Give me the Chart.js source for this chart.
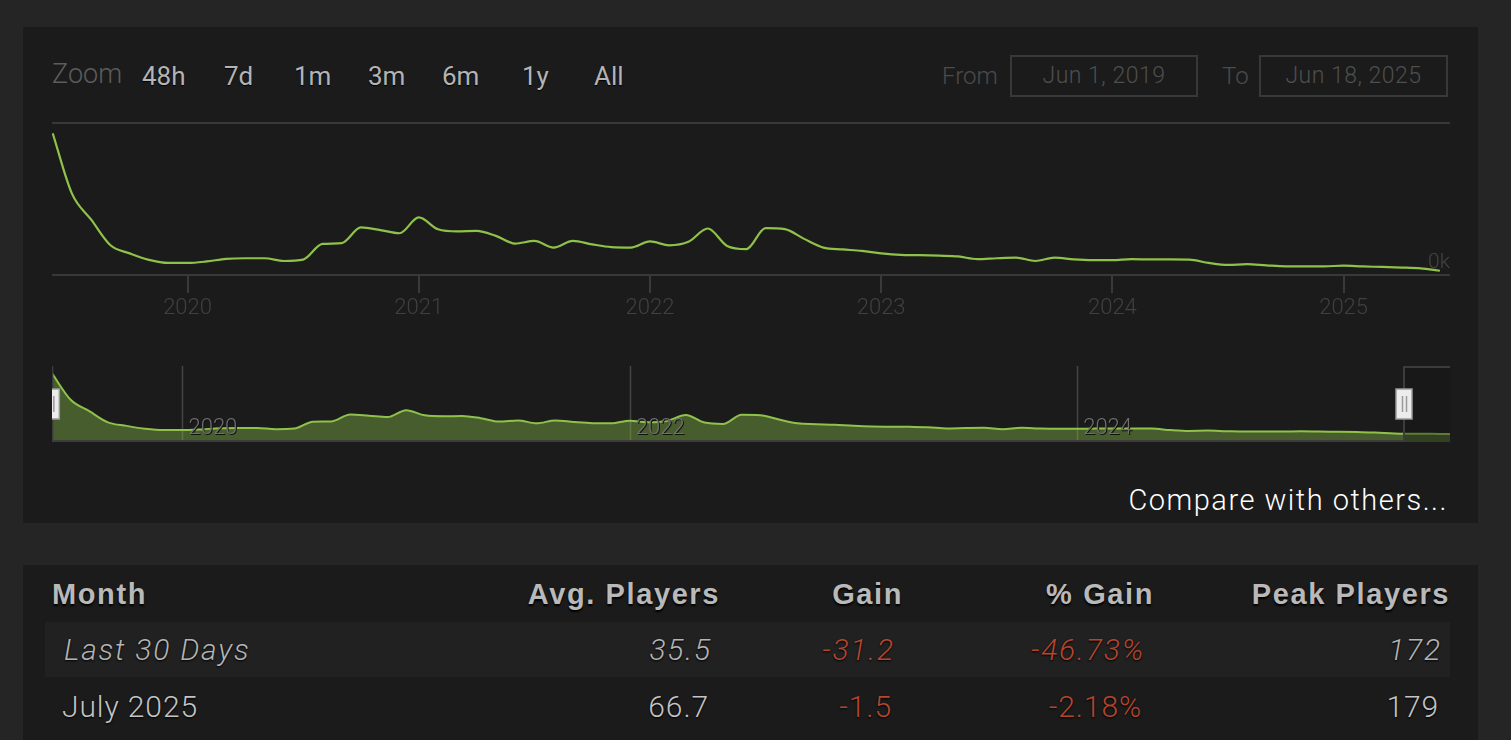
<!DOCTYPE html>
<html>
<head>
<meta charset="utf-8">
<script src="https://cdn.jsdelivr.net/npm/chart.js@4.4.1/dist/chart.umd.min.js"></script>
<style>
  body { margin: 0; width: 1511px; height: 740px; overflow: hidden; background: #252525; font-family: Roboto, 'Liberation Sans', sans-serif; }
  .panel { position: absolute; left: 23px; width: 1455px; background: #1b1b1b; }
  .t { position: absolute; white-space: nowrap; height: 40px; line-height: 40px; }
  .r { text-align: right; }
  .btn { color: #b4b4b4; font-size: 26px; text-shadow: 0 1px 1px #000; }
  .lbl { color: #4c4c4c; font-size: 24px; font-weight: 300; }
  .box { position: absolute; top: 55px; height: 38px; border: 2px solid #383838; color: #4e4e4e; font-size: 23px; font-weight: 300; line-height: 38px; text-align: center; letter-spacing: 0.5px; }
  .th { font-family: 'Liberation Sans', sans-serif; font-weight: bold; font-size: 29px; letter-spacing: 1.6px; color: #b9b9b9; text-shadow: 0 2px 2px #000; }
  .td { font-size: 30px; font-weight: 300; color: #c4c4c4; letter-spacing: 0.9px; text-shadow: 0 1px 2px #000; }
  .it { font-style: italic; color: #b4b4b4; letter-spacing: 1.8px; }
  .neg { color: #b4462e; }
  canvas { position: absolute; }
</style>
</head>
<body>
<div class="panel" style="top:27px;height:496px;"></div>
<div class="panel" style="top:565px;height:175px;"></div>
<div style="position:absolute;left:45px;top:622px;width:1405px;height:55px;background:#212121;"></div>

<!-- zoom bar -->
<div class="t" style="left:52px;top:54px;color:#5c5c5c;font-size:27px;font-weight:300;">Zoom</div>
<div class="t btn" style="left:142px;top:56px;">48h</div>
<div class="t btn" style="left:224px;top:56px;">7d</div>
<div class="t btn" style="left:294px;top:56px;">1m</div>
<div class="t btn" style="left:368px;top:56px;">3m</div>
<div class="t btn" style="left:442px;top:56px;">6m</div>
<div class="t btn" style="left:522px;top:56px;">1y</div>
<div class="t btn" style="left:594px;top:56px;">All</div>
<div class="t lbl" style="left:942px;top:56px;">From</div>
<div class="box" style="left:1010px;width:184px;">Jun 1, 2019</div>
<div class="t lbl" style="left:1222px;top:56px;">To</div>
<div class="box" style="left:1259px;width:185px;">Jun 18, 2025</div>

<canvas id="mainChart" style="left:52px;top:110px;width:1398px;height:215px;"></canvas>
<canvas id="navChart" style="left:52px;top:366px;width:1398px;height:76px;"></canvas>

<div class="t r" style="right:63px;top:480px;color:#fff;font-size:29px;font-weight:300;letter-spacing:1.5px;">Compare with others...</div>

<!-- table -->
<div class="t th" style="left:52px;top:574px;">Month</div>
<div class="t th r" style="right:791px;top:574px;">Avg. Players</div>
<div class="t th r" style="right:608px;top:574px;">Gain</div>
<div class="t th r" style="right:357px;top:574px;">% Gain</div>
<div class="t th r" style="right:61px;top:574px;">Peak Players</div>

<div class="t td it" style="left:64px;top:630px;">Last 30 Days</div>
<div class="t td it r" style="right:799px;top:630px;">35.5</div>
<div class="t td it neg r" style="right:616px;top:630px;">-31.2</div>
<div class="t td it neg r" style="right:366px;top:630px;">-46.73%</div>
<div class="t td it r" style="right:69px;top:630px;">172</div>

<div class="t td" style="left:62px;top:687px;">July 2025</div>
<div class="t td r" style="right:802px;top:687px;">66.7</div>
<div class="t td neg r" style="right:619px;top:687px;">-1.5</div>
<div class="t td neg r" style="right:369px;top:687px;">-2.18%</div>
<div class="t td r" style="right:72px;top:687px;">179</div>

<script>
// ─── Data (monthly average players) ────────────────────
const months = [
  '2019-06','2019-07','2019-08','2019-09','2019-10','2019-11','2019-12',
  '2020-01','2020-02','2020-03','2020-04','2020-05','2020-06','2020-07','2020-08','2020-09','2020-10','2020-11','2020-12',
  '2021-01','2021-02','2021-03','2021-04','2021-05','2021-06','2021-07','2021-08','2021-09','2021-10','2021-11','2021-12',
  '2022-01','2022-02','2022-03','2022-04','2022-05','2022-06','2022-07','2022-08','2022-09','2022-10','2022-11','2022-12',
  '2023-01','2023-02','2023-03','2023-04','2023-05','2023-06','2023-07','2023-08','2023-09','2023-10','2023-11','2023-12',
  '2024-01','2024-02','2024-03','2024-04','2024-05','2024-06','2024-07','2024-08','2024-09','2024-10','2024-11','2024-12',
  '2025-01','2025-02','2025-03','2025-04','2025-05','2025-06','2025-07','2025-08','2025-09'
];
const players = [
  930, 534, 363, 195, 142, 99, 79,
  79, 89, 106, 110, 110, 92, 101, 204, 209, 312, 295, 274,
  378, 300, 286, 290, 257, 206, 224, 180, 224, 201, 183, 180,
  220, 195, 218, 305, 191, 170, 308, 301, 237, 180, 168, 158,
  142, 132, 130, 127, 122, 104, 110, 114, 92, 114, 102, 97,
  97, 104, 102, 102, 101, 79, 66, 71, 63, 57, 57, 57,
  61, 56, 53, 49, 43, 28, 24, 22, 20
];
const rangeFrom = '2019-06-01';
const rangeTo = '2025-06-18';
const mainYearTicks = [2020, 2021, 2022, 2023, 2024, 2025];
const navYearTicks = [2020, 2022, 2024];

const green = '#8fc24a';

function monthToYear(s) {
    const [y, m] = s.split('-').map(Number);
    return y + (m - 1) / 12;
}
function dateToYear(s) {
    const [y, m, d] = s.split('-').map(Number);
    const start = Date.UTC(y, 0, 1), end = Date.UTC(y + 1, 0, 1);
    return y + (Date.UTC(y, m - 1, d) - start) / (end - start);
}

const allPoints = months.map((m, i) => ({ x: monthToYear(m), y: players[i] }));
const fromX = dateToYear(rangeFrom);
const toX = dateToYear(rangeTo);
const mainPoints = allPoints.filter(p => p.x <= toX);

// ─── Main chart ────────────────────────────
new Chart(document.getElementById('mainChart'), {
    type: 'line',
    data: { datasets: [{
        data: mainPoints,
        borderColor: green,
        borderWidth: 2.2,
        pointRadius: 0,
        cubicInterpolationMode: 'monotone',
        fill: false
    }]},
    options: {
        responsive: false,
        animation: false,
        layout: { padding: 0 },
        plugins: { legend: { display: false }, tooltip: { enabled: false } },
        scales: {
            x: {
                type: 'linear', min: fromX, max: toX,
                afterBuildTicks: s => { s.ticks = mainYearTicks.map(v => ({ value: v })); },
                afterFit: s => { s.height = 50; },
                ticks: { includeBounds: false, color: '#404040', padding: 2, font: { size: 22, family: 'Roboto', weight: 300 },
                         callback: v => String(v) },
                grid: { drawOnChartArea: false, tickLength: 18, color: '#3a3a3a', lineWidth: 2 },
                border: { color: '#383838', width: 2 }
            },
            y: {
                position: 'right', min: 0, max: 1000,
                afterFit: s => { s.width = 0; },
                ticks: { stepSize: 1000, mirror: true, padding: 0, labelOffset: -12, color: '#444',
                         font: { size: 21, family: 'Roboto', weight: 300 },
                         callback: v => v === 0 ? '0k' : '' },
                grid: { color: '#383838', lineWidth: 2, drawTicks: false },
                border: { display: false }
            }
        }
    }
});

// ─── Navigator ────────────────────────────
const navigatorPlugin = {
    id: 'navigatorDecor',
    beforeDatasetsDraw(chart) {
        const { ctx, chartArea: a, scales: { x } } = chart;
        ctx.save();
        ctx.strokeStyle = '#444';
        ctx.lineWidth = 1.5;
        navYearTicks.forEach(v => {
            const px = Math.round(x.getPixelForValue(v)) + 0.5;
            ctx.beginPath(); ctx.moveTo(px, a.top); ctx.lineTo(px, a.bottom); ctx.stroke();
        });
        ctx.restore();
    },
    afterDatasetsDraw(chart) {
        const { ctx, chartArea: a, scales: { x } } = chart;
        const sx = x.getPixelForValue(fromX), ex = Math.round(x.getPixelForValue(toX));
        ctx.save();
        // year labels
        ctx.font = '300 22px Roboto';
        ctx.textBaseline = 'middle';
        navYearTicks.forEach(v => {
            const px = x.getPixelForValue(v) + 6;
            ctx.fillStyle = '#111';
            ctx.fillText(String(v), px + 1, a.bottom - 14 + 1);
            ctx.fillStyle = '#707070';
            ctx.fillText(String(v), px, a.bottom - 14);
        });
        // mask outside selection
        ctx.fillStyle = 'rgba(20,20,20,0.4)';
        ctx.fillRect(ex, a.top, a.right - ex, a.bottom - a.top);
        // outline
        ctx.strokeStyle = '#3c3c3c';
        ctx.lineWidth = 2;
        ctx.beginPath();
        ctx.moveTo(sx + 1, a.top);
        ctx.lineTo(sx + 1, a.bottom - 1);
        ctx.lineTo(ex, a.bottom - 1);
        ctx.lineTo(ex, a.top + 1);
        ctx.lineTo(a.right, a.top + 1);
        ctx.stroke();
        // handles
        [sx, ex].forEach(hx => {
            const w = 16, h = 30, top = a.top + 23;
            ctx.fillStyle = '#ececec';
            ctx.strokeStyle = '#9a9a9a';
            ctx.lineWidth = 1.5;
            ctx.fillRect(hx - w / 2, top, w, h);
            ctx.strokeRect(hx - w / 2, top, w, h);
            ctx.beginPath();
            ctx.moveTo(hx - 1.5, top + 7); ctx.lineTo(hx - 1.5, top + h - 7);
            ctx.moveTo(hx + 2.5, top + 7); ctx.lineTo(hx + 2.5, top + h - 7);
            ctx.stroke();
        });
        ctx.restore();
    }
};

new Chart(document.getElementById('navChart'), {
    type: 'line',
    data: { datasets: [{
        data: allPoints,
        borderColor: green,
        borderWidth: 2,
        backgroundColor: 'rgba(141,193,75,0.4)',
        pointRadius: 0,
        cubicInterpolationMode: 'monotone',
        fill: 'start'
    }]},
    options: {
        responsive: false,
        animation: false,
        layout: { padding: 0 },
        plugins: { legend: { display: false }, tooltip: { enabled: false } },
        scales: {
            x: { type: 'linear', display: false, min: allPoints[0].x, max: allPoints[allPoints.length - 1].x },
            y: { display: false, min: -100, max: 1040 }
        }
    },
    plugins: [navigatorPlugin]
});
</script>
</body>
</html>
